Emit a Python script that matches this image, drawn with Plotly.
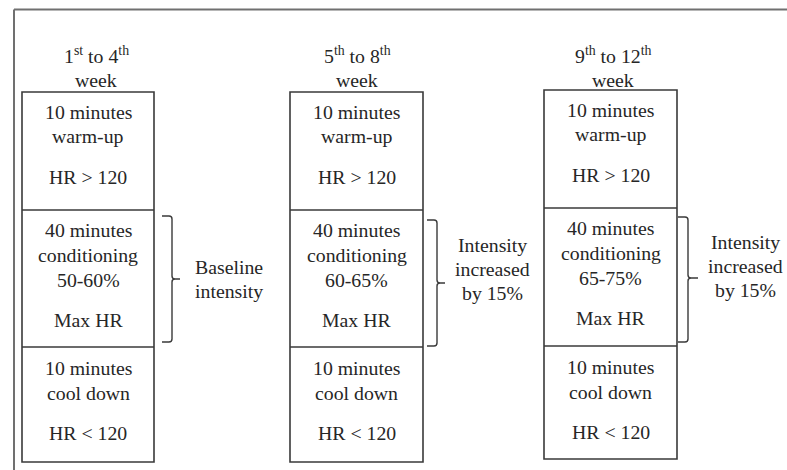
import plotly.graph_objects as go

# ---------------- content (data) ----------------
week_first = ["1<sup>st</sup> to 4<sup>th</sup>", "5<sup>th</sup> to 8<sup>th</sup>", "9<sup>th</sup> to 12<sup>th</sup>"]
week_second = ["week", "week", "week"]
warm_lines = ["10 minutes", "warm-up", "HR > 120"]
cond_head = ["40 minutes", "conditioning"]
intensity_ranges = ["50-60%", "60-65%", "65-75%"]
cond_tail = ["Max HR"]
cool_lines = ["10 minutes", "cool down", "HR < 120"]
bracket_labels = [["Baseline", "intensity"],
                  ["Intensity", "increased", "by 15%"],
                  ["Intensity", "increased", "by 15%"]]

# ---------------- layout constants ----------------
W, H = 787, 470
FONT = "Liberation Serif, Times New Roman, serif"
FS = 19.8
TXT = "#262626"
LINE = "#3a3a3a"

box_x = [(22, 154), (290, 423), (544, 677)]
box_y = [(92, 210, 347, 462), (92, 210, 347, 462), (90, 208, 346, 459)]
header_x = [96, 357, 613]
header_y = (55, 80)
warm_off = [20, 44, 85]
cond_off = [20, 45, 70, 110]
cool_off = [21, 46, 86]
brk_x = [(162, 172, 180), (427, 437, 445), (678, 688, 698)]
brk_y = [(216, 342, 279), (220, 346, 283), (217, 342, 278)]
lab_x = [229, 492, 745]
lab_cy = [279, 269, 266]
lab_gap = 24

fig = go.Figure()
# invisible trace to establish axes
fig.add_trace(go.Scatter(x=[0, W], y=[0, H], mode="markers",
                         marker=dict(opacity=0), hoverinfo="skip", showlegend=False))

shapes = []
ann = []


def text(x, y, s):
    ann.append(dict(x=x, y=y, xref="x", yref="y", text=s, showarrow=False,
                    xanchor="center", yanchor="middle",
                    font=dict(family=FONT, size=FS, color=TXT)))


# outer frame (top and left edges)
shapes.append(dict(type="line", x0=14, y0=9.5, x1=W + 5, y1=9.5, xref="x", yref="y",
                   line=dict(color="#707070", width=2)))
shapes.append(dict(type="line", x0=14, y0=9.5, x1=14, y1=H + 5, xref="x", yref="y",
                   line=dict(color="#707070", width=2)))

for i in range(3):
    x0, x1 = box_x[i]
    top, d1, d2, bot = box_y[i]
    cx = (x0 + x1) / 2
    # box + dividers
    shapes.append(dict(type="rect", x0=x0, x1=x1, y0=top, y1=bot, xref="x", yref="y",
                       line=dict(color=LINE, width=1.6)))
    for d in (d1, d2):
        shapes.append(dict(type="line", x0=x0, x1=x1, y0=d, y1=d, xref="x", yref="y",
                           line=dict(color=LINE, width=1.6)))
    # header
    text(header_x[i], header_y[0], week_first[i])
    text(header_x[i], header_y[1], week_second[i])
    # sections
    for s, o in zip(warm_lines, warm_off):
        text(cx, top + o, s)
    cond = cond_head + [intensity_ranges[i]] + cond_tail
    for s, o in zip(cond, cond_off):
        text(cx, d1 + o, s)
    for s, o in zip(cool_lines, cool_off):
        text(cx, d2 + o, s)
    # bracket
    bx0, bx1, bx2 = brk_x[i]
    by0, by1, bm = brk_y[i]
    r = 3
    path = (f"M {bx0} {by0} L {bx1 - r} {by0} Q {bx1} {by0} {bx1} {by0 + r} "
            f"L {bx1} {bm - r} Q {bx1} {bm} {bx1 + r} {bm} L {bx2} {bm} "
            f"M {bx1 + r} {bm} Q {bx1} {bm} {bx1} {bm + r} "
            f"L {bx1} {by1 - r} Q {bx1} {by1} {bx1 - r} {by1} L {bx0} {by1}")
    shapes.append(dict(type="path", path=path, xref="x", yref="y",
                       line=dict(color=LINE, width=1.4)))
    labs = bracket_labels[i]
    n = len(labs)
    for k, s in enumerate(labs):
        text(lab_x[i], lab_cy[i] + (k - (n - 1) / 2) * lab_gap, s)

fig.update_layout(
    width=W, height=H,
    margin=dict(l=0, r=0, t=0, b=0),
    paper_bgcolor="white", plot_bgcolor="white",
    xaxis=dict(range=[0, W], visible=False, fixedrange=True),
    yaxis=dict(range=[H, 0], visible=False, fixedrange=True),
    shapes=shapes, annotations=ann,
)
fig.write_html("out.html", config={"displayModeBar": False},
               post_script="document.body.style.margin='0';document.body.style.overflow='hidden';")
